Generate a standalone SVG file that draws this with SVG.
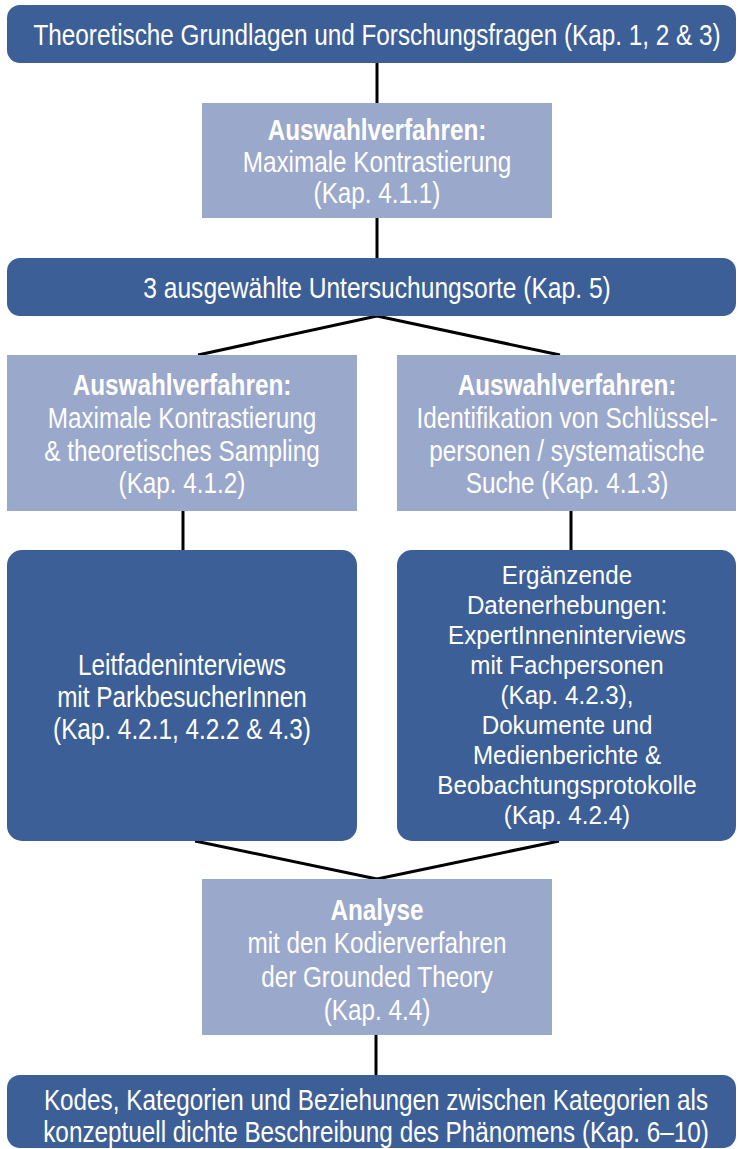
<svg xmlns="http://www.w3.org/2000/svg" width="739" height="1149" viewBox="0 0 739 1149">
<style>
.dark{fill:#3d5f97}
.light{fill:#9aa8cc}
text{font-family:"Liberation Sans",Arial,sans-serif;font-size:30px;fill:#ffffff;text-anchor:middle}
.b{font-weight:bold}
.s{font-size:26px}
.conn line{stroke:#000000;stroke-width:3;stroke-linecap:butt}
</style>
<rect width="739" height="1149" fill="#ffffff"/>
<g id="connectors" class="conn">
<line x1="377" y1="63" x2="377" y2="103"/>
<line x1="377" y1="218" x2="377" y2="258"/>
<line x1="377" y1="316" x2="198" y2="355"/>
<line x1="377" y1="316" x2="560" y2="355"/>
<line x1="183" y1="511" x2="183" y2="550"/>
<line x1="571" y1="511" x2="571" y2="550"/>
<line x1="195" y1="841" x2="377" y2="879"/>
<line x1="559" y1="841" x2="377" y2="879"/>
<line x1="376" y1="1035" x2="376" y2="1075"/>
</g>
<g id="n-grundlagen">
<rect class="dark" x="7" y="5" width="729" height="58" rx="13"/>
<g transform="translate(377 0) scale(0.81 1)"><text x="0" y="45">Theoretische Grundlagen und Forschungsfragen (Kap. 1, 2 &amp; 3)</text></g>
</g>
<g id="n-auswahl1">
<rect class="light" x="202" y="103" width="350" height="115"/>
<g transform="translate(377 0) scale(0.81 1)">
<text class="b" x="0" y="140">Auswahlverfahren:</text>
<text x="0" y="172">Maximale Kontrastierung</text>
<text x="0" y="203">(Kap. 4.1.1)</text>
</g>
</g>
<g id="n-orte">
<rect class="dark" x="7" y="258" width="729" height="58" rx="13"/>
<g transform="translate(377 0) scale(0.82 1)"><text x="0" y="298">3 ausgewählte Untersuchungsorte (Kap. 5)</text></g>
</g>
<g id="n-auswahl2">
<rect class="light" x="7" y="355" width="350" height="156"/>
<g transform="translate(182 0) scale(0.81 1)">
<text class="b" x="0" y="395">Auswahlverfahren:</text>
<text x="0" y="428">Maximale Kontrastierung</text>
<text x="0" y="461">&amp; theoretisches Sampling</text>
<text x="0" y="493">(Kap. 4.1.2)</text>
</g>
</g>
<g id="n-auswahl3">
<rect class="light" x="397" y="355" width="339" height="156"/>
<g transform="translate(567 0) scale(0.81 1)">
<text class="b" x="0" y="395">Auswahlverfahren:</text>
<text x="0" y="428">Identifikation von Schlüssel-</text>
<text x="0" y="461">personen / systematische</text>
<text x="0" y="493">Suche (Kap. 4.1.3)</text>
</g>
</g>
<g id="n-leitfaden">
<rect class="dark" x="7" y="550" width="350" height="291" rx="15"/>
<g transform="translate(182 0) scale(0.81 1)">
<text x="0" y="675">Leitfadeninterviews</text>
<text x="0" y="707">mit ParkbesucherInnen</text>
<text x="0" y="739">(Kap. 4.2.1, 4.2.2 &amp; 4.3)</text>
</g>
</g>
<g id="n-ergaenzend">
<rect class="dark" x="397" y="550" width="339" height="291" rx="15"/>
<g transform="translate(567 0) scale(0.93 1)">
<text class="s" x="0" y="584">Ergänzende</text>
<text class="s" x="0" y="614">Datenerhebungen:</text>
<text class="s" x="0" y="644">ExpertInneninterviews</text>
<text class="s" x="0" y="674">mit Fachpersonen</text>
<text class="s" x="0" y="704">(Kap. 4.2.3),</text>
<text class="s" x="0" y="734">Dokumente und</text>
<text class="s" x="0" y="764">Medienberichte &amp;</text>
<text class="s" x="0" y="794">Beobachtungsprotokolle</text>
<text class="s" x="0" y="824">(Kap. 4.2.4)</text>
</g>
</g>
<g id="n-analyse">
<rect class="light" x="202" y="879" width="350" height="156"/>
<g transform="translate(377 0) scale(0.81 1)">
<text class="b" x="0" y="920">Analyse</text>
<text x="0" y="953">mit den Kodierverfahren</text>
<text x="0" y="987">der Grounded Theory</text>
<text x="0" y="1020">(Kap. 4.4)</text>
</g>
</g>
<g id="n-kodes">
<rect class="dark" x="7" y="1075" width="729" height="73" rx="13"/>
<g transform="translate(376 0) scale(0.81 1)">
<text x="0" y="1110">Kodes, Kategorien und Beziehungen zwischen Kategorien als</text>
<text x="0" y="1142">konzeptuell dichte Beschreibung des Phänomens (Kap. 6–10)</text>
</g>
</g>
</svg>
